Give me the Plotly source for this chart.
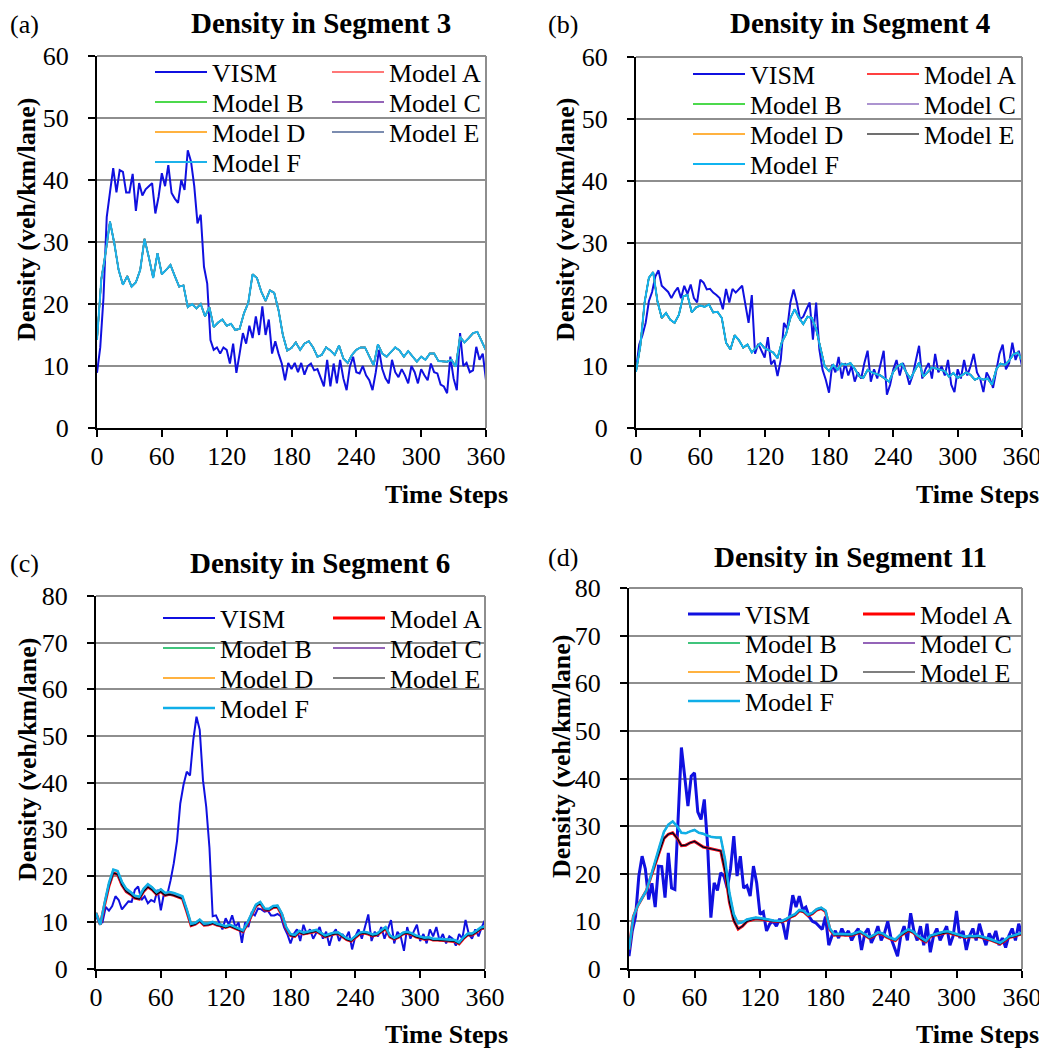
import plotly.graph_objects as go

W, H = 1047, 1053
FONT = "Liberation Serif"
PAGE_OFFSET = 8  # default body margin of the HTML page

# ---------------- data ----------------
time_vism = list(range(0, 361, 3))
time_model = list(range(0, 361, 4))
x_ticks = [0, 60, 120, 180, 240, 300, 360]

seg3_vism = [8.9, 13, 21, 34, 38, 41.9, 38, 41.6, 41.3, 38,
             38, 41, 35, 39.5, 37.5, 38.5, 39, 39.5, 34.6, 37.3,
             41.1, 39, 42.4, 37.9, 37, 36.3, 40, 38.4, 44.8, 43,
             39, 33, 34.4, 26, 23.3, 14.2, 12.6, 13, 12, 13,
             12.6, 10.4, 13.6, 8.9, 12, 15.3, 13.6, 16.5, 14.5, 18,
             15, 19.6, 15, 17.5, 12, 14, 12, 10.4, 7.7, 10.5,
             9.5, 10.5, 9, 10.5, 8.6, 10, 10.4, 9.3, 9.5, 8,
             6.7, 11, 6.7, 10.4, 7.2, 11, 8, 6.1, 9.9, 11.5,
             9, 8.8, 10, 8.5, 7.7, 6.1, 9, 12.6, 9.5, 8,
             7.2, 11, 9, 8.2, 9.5, 8.5, 7.2, 10, 9, 7.2,
             9.5, 8.5, 7.7, 10.4, 9, 8.8, 7, 6.7, 5.6, 11.5,
             8, 6.1, 15.3, 10, 10.5, 9, 9.3, 13.1, 11, 12,
             7.7]
seg3_model = [14.2, 24, 28.3, 33.3, 29.8, 25.5, 23.1, 24.5, 22.8, 23.5,
              25.5, 30.5, 27.5, 24.2, 28.2, 24.8, 25.5, 26.3, 24.5, 22.8,
              23, 19.5, 20, 19.3, 20, 18, 19.5, 16.3, 17, 17.5,
              16.5, 16.8, 15.8, 16, 18.5, 20.2, 24.8, 24.2, 22, 20.5,
              22.2, 21.8, 19, 15, 12.5, 12.9, 13.8, 12.6, 13.6, 14,
              13, 11.5, 11.8, 13, 12.5, 11.8, 13.3, 11.2, 10.5, 11.8,
              12.6, 13, 13, 11.5, 10.1, 13.5, 12, 11.5, 12.3, 13,
              12.5, 11.5, 12.4, 11.5, 10.7, 11.5, 11, 12, 12, 10.8,
              10.7, 10.7, 11, 9.9, 14.7, 13.8, 14.5, 15.3, 15.5, 14,
              12.5]

seg4_vism = [9.4, 13.5, 15, 17, 20.5, 22, 24.5, 25.5, 23, 22.5,
             22, 21, 22, 22.7, 21, 23, 21.7, 23.2, 21, 20.3,
             24, 23.5, 22.4, 22.5, 21.9, 21.5, 21, 19.2, 22.5, 20.3,
             22.5, 21.9, 22.4, 23, 20, 17, 21.5, 12, 13.6, 12.5,
             11.4, 14.7, 10.3, 11, 8.4, 11, 17, 16, 20.3, 22.4,
             20.3, 17.6, 18, 19.2, 20.3, 14.3, 20.3, 12.7, 9.4, 7.8,
             5.7, 10.3, 9, 11.5, 8, 10.5, 8.5, 10, 7.5, 9,
             8, 10.5, 12.5, 7.5, 9.5, 8, 10.5, 12.5, 5.4, 7,
             9.5, 11, 8.5, 10.5, 9, 7, 8.5, 11, 13.3, 8,
             9.5, 10.5, 8, 12, 9, 10, 8.5, 11, 7, 5.8,
             9.5, 8, 11, 8.5, 10, 12, 9, 8, 5.8, 9,
             8, 6.5, 9.5, 12, 13.5, 9.5, 10.5, 13.8, 11, 12.5,
             10]
seg4_model = [9.1, 13.2, 20.3, 24.3, 25.2, 20.5, 17.8, 18.6, 17.5, 17,
              18.3, 21.3, 21.5, 18.7, 19.5, 19.8, 19.6, 20, 18.7, 18.8,
              17.8, 13.8, 12.7, 15, 14.2, 13, 13.5, 12.2, 13, 13.7,
              12.9, 12.6, 12.2, 11.3, 13.9, 15.2, 17.8, 19.2, 17.8, 16.8,
              18, 17.8, 16, 13, 10, 9.2, 10.2, 9.4, 10.4, 10.2,
              10.5, 9.6, 8.4, 8.1, 9.4, 9, 8.7, 8.5, 8, 7.5,
              9.1, 10, 10.4, 9, 8, 9.2, 10.6, 8.3, 9, 9.8,
              9.6, 9.4, 9.2, 8.3, 8.9, 8.1, 8.6, 9, 8.6, 7.8,
              8.1, 7.8, 8, 7, 9.5, 10.4, 10.2, 10.9, 11.9, 12.2,
              11]

seg6_vism = [11.5, 9.9, 10, 13.3, 12.5, 13.5, 15.6, 14.8, 12.8, 13.7,
             14.5, 14.4, 17, 17.7, 14.8, 15.6, 14.1, 14.8, 14.4, 17,
             12.6, 16.3, 16, 19, 22.7, 27.5, 35.5, 39.5, 42.3, 41.5,
             49.1, 54.1, 51.3, 40.5, 34.8, 26, 11.3, 11.5, 10, 8.5,
             10.9, 9.5, 11.5, 9, 10, 5.6, 10, 9, 12, 11.5,
             13, 12.8, 12.3, 12.5, 11.5, 11.5, 11.8, 11.3, 9, 7.5,
             5.5, 7.5, 8.5, 6, 9.5, 7.5, 8.5, 6.5, 7.8, 9,
             6.5, 8, 5, 7.5, 8.5, 6, 7.5, 6.5, 8, 4.2,
             7, 8.5, 6.5, 9, 11.7, 6, 8, 7, 9, 6.5,
             8.5, 10.5, 5.5, 8, 7, 3.9, 9, 6.5, 8, 9.5,
             6, 7.5, 5.5, 8.5, 7, 9, 6, 7.5, 5.5, 7,
             6.5, 5, 7.5, 6.5, 10.5, 7.5, 6.5, 8.5, 7, 9,
             10.5]
seg6_model_high = [12, 9.5, 14.2, 18.5, 21.3, 21, 18.7, 17.2, 16.5, 15.7,
                   15.5, 17.2, 18.2, 17.5, 16.5, 17.1, 16.3, 16.5, 16.3, 16,
                   15.6, 12.8, 9.7, 9.9, 10.6, 9.7, 9.8, 10.1, 9.7, 9.5,
                   9.2, 9.5, 9.1, 8.7, 8.3, 9.9, 11.8, 13.8, 14.4, 13,
                   12.9, 13.5, 13.6, 11.9, 9, 7.5, 7.3, 8.2, 7.8, 8,
                   8.2, 8.4, 7.8, 7.2, 7.5, 7.8, 7.9, 7.2, 6.6, 6.3,
                   7, 7.8, 8, 7.8, 7.4, 7.6, 8.3, 9, 7.2, 6.7,
                   7.1, 7.8, 8, 7.7, 7.2, 7, 6.7, 6.8, 6.5, 6.5,
                   6.4, 6.3, 6.3, 6.2, 5.7, 6.8, 7.6, 7.6, 8.2, 8.9,
                   9.1]
seg6_model_low = [12, 9.5, 13.8, 17.8, 20.6, 20.3, 18, 16.6, 16, 15.2,
                  15, 16.6, 17.6, 17, 16, 16.6, 15.8, 16, 15.8, 15.5,
                  15.1, 12.3, 9.3, 9.6, 10.3, 9.4, 9.5, 9.8, 9.4, 9.2,
                  8.9, 9.2, 8.8, 8.4, 8, 9.6, 11.5, 13.5, 14.1, 12.7,
                  12.6, 13.2, 13.3, 11.6, 8.7, 7.2, 7, 7.9, 7.5, 7.7,
                  7.9, 8.1, 7.5, 6.9, 7.2, 7.5, 7.6, 6.9, 6.3, 6,
                  6.7, 7.5, 7.7, 7.5, 7.1, 7.3, 8, 8.7, 6.9, 6.4,
                  6.8, 7.5, 7.7, 7.4, 6.9, 6.7, 6.4, 6.5, 6.2, 6.2,
                  6.1, 6, 6, 5.9, 5.4, 6.5, 7.3, 7.3, 7.9, 8.6,
                  8.8]

seg11_vism = [2.7, 8, 11, 19.5, 23.7, 21, 14.6, 18, 13, 21.6,
              21.5, 15, 24.4, 17, 16.7, 30.7, 46.5, 40.5, 34.2, 40.5,
              41.2, 33, 31.4, 35.6, 26, 10.8, 18.1, 16.5, 20.2, 19.5,
              17, 21, 27.9, 19.5, 23.7, 17, 17.5, 15.3, 21.6, 18,
              11.5, 12, 8, 9.5, 10, 9, 10.5, 9.5, 6.2, 11,
              15.5, 13, 15.3, 12.5, 13, 11, 10, 9.7, 9, 8.3,
              11, 5, 7, 8, 6.5, 8.5, 7, 8, 6, 7.5,
              8.5, 4, 7.5, 8.5, 5.5, 7, 9, 6, 7.5, 10,
              6.5, 4.5, 2.7, 7, 9, 6, 11.7, 8, 6, 9,
              5, 9.5, 3.5, 7, 8.5, 6, 7.5, 9, 5, 7,
              12.2, 6.5, 8, 4, 7, 8.5, 6, 9.5, 7, 5,
              7.5, 6, 8, 5, 6.5, 4.5, 7, 8.5, 6, 9.5,
              7]
seg11_model_high = [4.1, 11, 13.3, 14.8, 16.5, 19.5, 22.4, 25.8, 28.8, 30.3,
                    31, 30, 28.6, 28.5, 28.9, 29.2, 28.6, 28.4, 28, 27.7,
                    27.6, 27.6, 23, 16, 11.5, 9.6, 9.8, 10.4, 10.6, 10.8,
                    10.7, 10.6, 10.4, 10.2, 10.2, 10.1, 10.5, 11.1, 11.5, 12.4,
                    12.2, 11.4, 11.8, 12.6, 12.9, 12.3, 8.5, 7.3, 7.4, 7.3,
                    7.3, 7.3, 7.6, 7.9, 7.3, 6.7, 7.1, 7.7, 7.5, 6.9,
                    6.5, 6.2, 7.1, 7.8, 8.3, 7.9, 7.1, 6.4, 5.9, 7,
                    7.3, 7.5, 7.8, 7.9, 7.6, 7.3, 7, 6.8, 7, 6.9,
                    7, 6.8, 6.5, 6.2, 5.8, 5.5, 6.1, 6.8, 7, 7.3,
                    7.6]
seg11_model_low = [4.1, 11, 13.3, 14.8, 16.5, 19.3, 22, 24.8, 27.4, 28.3,
                   28.6, 27.5, 25.9, 26, 26.5, 26.8, 26.2, 25.6, 25.4, 25.2,
                   25, 24.8, 20.5, 14, 10.2, 8.4, 9, 10, 10.3, 10.6,
                   10.5, 10.4, 10.2, 10, 10, 9.9, 10.3, 10.9, 11.3, 12.2,
                   12, 11.2, 11.6, 12.4, 12.7, 12.1, 8.3, 7.1, 7.2, 7.1,
                   7.1, 7.1, 7.4, 7.7, 7.1, 6.5, 6.9, 7.5, 7.3, 6.7,
                   6.3, 6, 6.9, 7.6, 8.1, 7.7, 6.9, 6.2, 5.7, 6.8,
                   7.1, 7.3, 7.6, 7.7, 7.4, 7.1, 6.8, 6.6, 6.8, 6.7,
                   6.8, 6.6, 6.3, 6, 5.6, 5.3, 5.9, 6.6, 6.8, 7.1,
                   7.4]

series_names = ["VISM", "Model A", "Model B", "Model C", "Model D", "Model E", "Model F"]
# legend grid slot of each series: (column, row)
legend_slots = [(0, 0), (1, 0), (0, 1), (1, 1), (0, 2), (1, 2), (0, 3)]

# ---------------- panel setup (positions in screen pixels) ----------------
panels = [
    dict(label="(a)", title="Density in Segment 3", vism=seg3_vism,
         models=[seg3_model] * 6, ymax=60,
         box=(97, 486, 56, 428), title_xy=(321, 23), label_xy=(8, 24),
         ytitle_xy=(27, 220), xtitle_xy=(510, 494),
         leg_cols=(155, 332), leg_rows=(72, 102, 132, 162),
         colors=["#1010E0", "#FF4A4A", "#10CC10", "#7030A0", "#FF9900", "#4F6696", "#1CB2EA"],
         widths=[2, 1.5, 1.5, 1.5, 1.5, 1.5, 2]),
    dict(label="(b)", title="Density in Segment 4", vism=seg4_vism,
         models=[seg4_model] * 6, ymax=60,
         box=(636, 1022, 57, 428), title_xy=(860, 23), label_xy=(546, 24),
         ytitle_xy=(566, 220), xtitle_xy=(1041, 494),
         leg_cols=(693, 867), leg_rows=(74, 104, 134, 164),
         colors=["#1010E0", "#FF0000", "#10CC10", "#9070C0", "#FF9900", "#404040", "#10B4F0"],
         widths=[2, 1.5, 1.5, 1.5, 1.5, 1.5, 2]),
    dict(label="(c)", title="Density in Segment 6", vism=seg6_vism,
         models=[seg6_model_low, seg6_model_high, seg6_model_low,
                 seg6_model_high, seg6_model_low, seg6_model_high], ymax=80,
         box=(96, 485, 596, 969), title_xy=(320, 563), label_xy=(8, 563),
         ytitle_xy=(27, 760), xtitle_xy=(510, 1034),
         leg_cols=(163, 333), leg_rows=(618, 648, 678, 708),
         colors=["#1010E0", "#FF0000", "#00B050", "#7030A0", "#FF9900", "#000000", "#10AEE8"],
         widths=[2, 3, 1.5, 1.5, 1.5, 1.2, 2.5]),
    dict(label="(d)", title="Density in Segment 11", vism=seg11_vism,
         models=[seg11_model_low, seg11_model_high, seg11_model_low,
                 seg11_model_high, seg11_model_low, seg11_model_high], ymax=80,
         box=(629, 1022, 588, 969), title_xy=(850, 557), label_xy=(546, 557),
         ytitle_xy=(561, 757), xtitle_xy=(1041, 1034),
         leg_cols=(688, 863), leg_rows=(614, 643, 672, 701),
         colors=["#1010E0", "#FF0000", "#00B050", "#7030A0", "#FF9900", "#000000", "#10AEE8"],
         widths=[3, 3, 1.5, 1.5, 1.5, 1.2, 2.5]),
]


def px(x):
    return (x - PAGE_OFFSET) / W


def py(y):
    return 1 - (y - PAGE_OFFSET) / H


fig = go.Figure()
layout = dict(width=W, height=H, margin=dict(l=0, r=0, t=0, b=0, autoexpand=False),
              paper_bgcolor="white", plot_bgcolor="white",
              font=dict(family=FONT, color="black"), showlegend=True)
annotations = []
shapes = []

LEG_FONT = 26
ITEM_H = LEG_FONT * 1.3 + 3
legend_count = 0

for i, p in enumerate(panels):
    n = i + 1
    xa = "x" if n == 1 else f"x{n}"
    ya = "y" if n == 1 else f"y{n}"
    xkey = "xaxis" if n == 1 else f"xaxis{n}"
    ykey = "yaxis" if n == 1 else f"yaxis{n}"

    all_y = [p["vism"]] + p["models"]
    for k, name in enumerate(series_names):
        legend_count += 1
        lid = "legend" if legend_count == 1 else f"legend{legend_count}"
        col, row = legend_slots[k]
        lx = p["leg_cols"][col]
        ly = p["leg_rows"][row]
        layout[lid] = dict(x=px(lx - 5), y=py(ly - ITEM_H / 2 - 5), xanchor="left",
                           yanchor="top", bgcolor="rgba(0,0,0,0)", borderwidth=0,
                           orientation="v", itemwidth=52,
                           font=dict(family=FONT, size=LEG_FONT, color="black"))
        fig.add_trace(go.Scatter(x=time_vism if k == 0 else time_model, y=all_y[k],
                                 mode="lines", name=name,
                                 line=dict(color=p["colors"][k], width=p["widths"][k]),
                                 xaxis=xa, yaxis=ya, legend=lid))

    L, R, T, B = p["box"]
    layout[xkey] = dict(domain=[px(L), px(R)], range=[0, 360], anchor=ya,
                        tickmode="array", tickvals=x_ticks, ticks="outside", ticklen=7,
                        tickwidth=1.5, tickcolor="black", showline=True, linecolor="black",
                        linewidth=2, showgrid=False, zeroline=False,
                        tickfont=dict(family=FONT, size=26, color="black"),
                        ticklabelstandoff=-3)
    layout[ykey] = dict(domain=[py(B), py(T)], range=[0, p["ymax"]], anchor=xa,
                        dtick=10, tick0=0, ticks="outside", ticklen=7, tickwidth=1.5,
                        tickcolor="black", showline=True, linecolor="black", linewidth=2,
                        showgrid=True, gridcolor="#8E8E8E", gridwidth=1.5, zeroline=False,
                        tickfont=dict(family=FONT, size=26, color="black"),
                        ticklabelstandoff=14)
    # gray top/right frame
    shapes.append(dict(type="line", xref=f"{xa} domain", yref=f"{ya} domain",
                       x0=0, x1=1, y0=1, y1=1, line=dict(color="#8E8E8E", width=2)))
    shapes.append(dict(type="line", xref=f"{xa} domain", yref=f"{ya} domain",
                       x0=1, x1=1, y0=0, y1=1, line=dict(color="#8E8E8E", width=2)))

    tx, ty = p["title_xy"]
    annotations.append(dict(text=f"<b>{p['title']}</b>", x=px(tx), y=py(ty), xref="paper",
                            yref="paper", xanchor="center", yanchor="middle", showarrow=False,
                            font=dict(family=FONT, size=29, color="black")))
    lx, ly = p["label_xy"]
    annotations.append(dict(text=p["label"], x=px(lx), y=py(ly), xref="paper", yref="paper",
                            xanchor="left", yanchor="middle", showarrow=False,
                            font=dict(family=FONT, size=26, color="black")))
    yx, yy = p["ytitle_xy"]
    annotations.append(dict(text="<b>Density (veh/km/lane)</b>", x=px(yx), y=py(yy),
                            xref="paper", yref="paper", xanchor="center", yanchor="middle",
                            textangle=-90, showarrow=False,
                            font=dict(family=FONT, size=26, color="black")))
    xx, xy = p["xtitle_xy"]
    annotations.append(dict(text="<b>Time Steps</b>", x=px(xx), y=py(xy), xref="paper",
                            yref="paper", xanchor="right", yanchor="middle", showarrow=False,
                            font=dict(family=FONT, size=26, color="black")))

layout["annotations"] = annotations
layout["shapes"] = shapes
fig.update_layout(**layout)
fig.write_html("out.html")
